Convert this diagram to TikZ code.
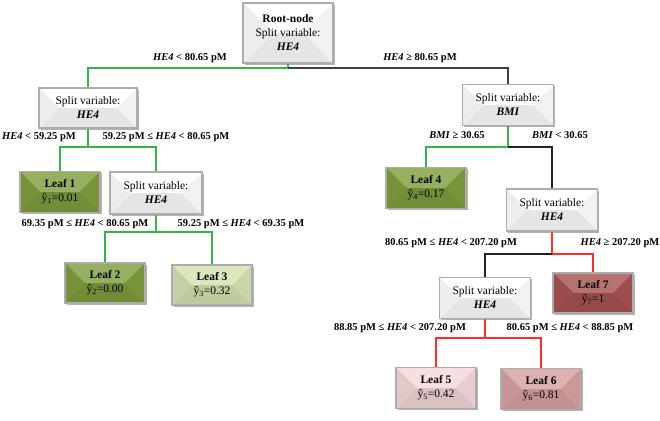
\documentclass[tikz,border=0pt]{standalone}
\usepackage{fontspec}
\setmainfont{Liberation Serif}
\usetikzlibrary{shadows,calc}
\definecolor{grn}{HTML}{33B54A}
\definecolor{redl}{HTML}{FF2D2D}
\definecolor{blkl}{HTML}{222222}
\definecolor{leafg}{HTML}{7F9D3E}
\definecolor{leafl}{HTML}{D4E1B0}
\definecolor{leafp}{HTML}{F3D8D8}
\definecolor{leafm}{HTML}{D7A1A1}
\definecolor{leafd}{HTML}{A65252}
\newcommand{\hef}{\textit{HE4}}
\newcommand{\yhat}[2]{ŷ\textsubscript{#1}=#2}
\tikzset{
  bevel/.style={fill=#1, draw=gray!65, line width=1.1pt, inner sep=0pt, align=center,
    font=\fontsize{11.5}{14}\selectfont,
    drop shadow={shadow xshift=1.8pt, shadow yshift=-1.8pt, fill=black!50, opacity=0.6},
    path picture={
      \fill[#1!82!white] let \p1=(path picture bounding box.south west), \p2=(path picture bounding box.north east), \n1={0.5*(\y2-\y1)} in
        (\x1,\y2) -- (\x2,\y2) -- (\x2-\n1,\y1+\n1) -- (\x1+\n1,\y1+\n1) -- cycle;
      \fill[#1!90!black] let \p1=(path picture bounding box.south west), \p2=(path picture bounding box.north east), \n1={0.5*(\y2-\y1)} in
        (\x1,\y1) -- (\x2,\y1) -- (\x2-\n1,\y1+\n1) -- (\x1+\n1,\y1+\n1) -- cycle;
      \fill[#1!93!black] let \p1=(path picture bounding box.south west), \p2=(path picture bounding box.north east), \n1={0.5*(\y2-\y1)} in
        (\x1,\y1) -- (\x1,\y2) -- (\x1+\n1,\y1+\n1) -- cycle;
      \fill[#1!95!black] let \p1=(path picture bounding box.south west), \p2=(path picture bounding box.north east), \n1={0.5*(\y2-\y1)} in
        (\x2,\y1) -- (\x2,\y2) -- (\x2-\n1,\y1+\n1) -- cycle;
    }},
  splitbox/.style={bevel=white, minimum width=92pt, minimum height=42pt},
  leafbox/.style={bevel=#1, minimum width=80pt, minimum height=41pt},
  cond/.style={font=\fontsize{10.5}{12}\selectfont\bfseries, inner sep=0pt},
  edge/.style={line width=1.3pt},
}
\begin{document}
\begin{tikzpicture}[x=1pt,y=-1pt]
\useasboundingbox[fill=white] (0,0) rectangle (660,420);
% nodes
\node[bevel=white, minimum width=90pt, minimum height=60pt] (root) at (288,33) {\textbf{Root-node}\\Split variable:\\\textbf{\hef}};
\node[splitbox, minimum width=98pt, minimum height=40pt] (s1) at (88,108) {Split variable:\\\textbf{\hef}};
\node[splitbox, minimum width=91pt, minimum height=41pt] (bmi) at (508,105) {Split variable:\\\textbf{\textit{BMI}}};
\node[leafbox=leafg] (l1) at (60,192) {\textbf{Leaf 1}\\\yhat{1}{0.01}};
\node[splitbox] (s2) at (156,193) {Split variable:\\\textbf{\hef}};
\node[leafbox=leafg] (l4) at (426,188) {\textbf{Leaf 4}\\\yhat{4}{0.17}};
\node[splitbox, minimum width=91pt] (s3) at (552,210) {Split variable:\\\textbf{\hef}};
\node[leafbox=leafg, minimum height=40pt] (l2) at (105,283) {\textbf{Leaf 2}\\\yhat{2}{0.00}};
\node[leafbox=leafl, minimum height=40pt] (l3) at (212,285) {\textbf{Leaf 3}\\\yhat{3}{0.32}};
\node[leafbox=leafd, minimum height=40pt] (l7) at (593,293) {\textbf{Leaf 7}\\\yhat{7}{1}};
\node[splitbox, minimum width=91pt, minimum height=41pt] (s4) at (485,298) {Split variable:\\\textbf{\hef}};
\node[leafbox=leafp] (l5) at (436,388) {\textbf{Leaf 5}\\\yhat{5}{0.42}};
\node[leafbox=leafm] (l6) at (541,389) {\textbf{Leaf 6}\\\yhat{6}{0.81}};
% junctions
\coordinate (j0) at (288,68);
\coordinate (j1) at (88,147);
\coordinate (j2) at (156,232);
\coordinate (jb) at (508,147);
\coordinate (j3) at (552,254);
\coordinate (j4) at (485,338);
% connectors
\draw[edge, grn] (root.south) -- (j0) -| (s1.north);
\draw[edge, black!75] (j0) -| (bmi.north);
\draw[edge, grn] (s1.south) -- (j1) -| (l1.north);
\draw[edge, grn] (j1) -| (s2.north);
\draw[edge, grn] (s2.south) -- (j2) -| (l2.north);
\draw[edge, grn] (j2) -| (l3.north);
\draw[edge, grn] (bmi.south) -- (jb) -| (l4.north);
\draw[edge, blkl] (jb) -| (s3.north);
\draw[edge, redl] (s3.south) -- (j3) -| (l7.north);
\draw[edge, blkl] (j3) -| (s4.north);
\draw[edge, redl] (s4.south) -- (j4) -| (l5.north);
\draw[edge, redl] (j4) -| (l6.north);
% condition labels
\node[cond] (c1) at (190,58) {\hef{} < 80.65 pM};
\node[cond] (c2) at (420,58) {\hef{} ≥ 80.65 pM};
\node[cond] (c3) at (39,137) {\hef{} < 59.25 pM};
\node[cond] (c4) at (166,137) {59.25 pM ≤ \hef{} < 80.65 pM};
\node[cond] (c5) at (457,135) {\textit{BMI} ≥ 30.65};
\node[cond] (c6) at (560,135) {\textit{BMI} < 30.65};
\node[cond] (c7) at (85,224) {69.35 pM ≤ \hef{} < 80.65 pM};
\node[cond] (c8) at (241,224) {59.25 pM ≤ \hef{} < 69.35 pM};
\node[cond] (c9) at (451,243) {80.65 pM ≤ \hef{} < 207.20 pM};
\node[cond] (c10) at (620,243) {\hef{} ≥ 207.20 pM};
\node[cond] (c11) at (400,328) {88.85 pM ≤ \hef{} < 207.20 pM};
\node[cond] (c12) at (570,328) {80.65 pM ≤ \hef{} < 88.85 pM};
\end{tikzpicture}
\end{document}
